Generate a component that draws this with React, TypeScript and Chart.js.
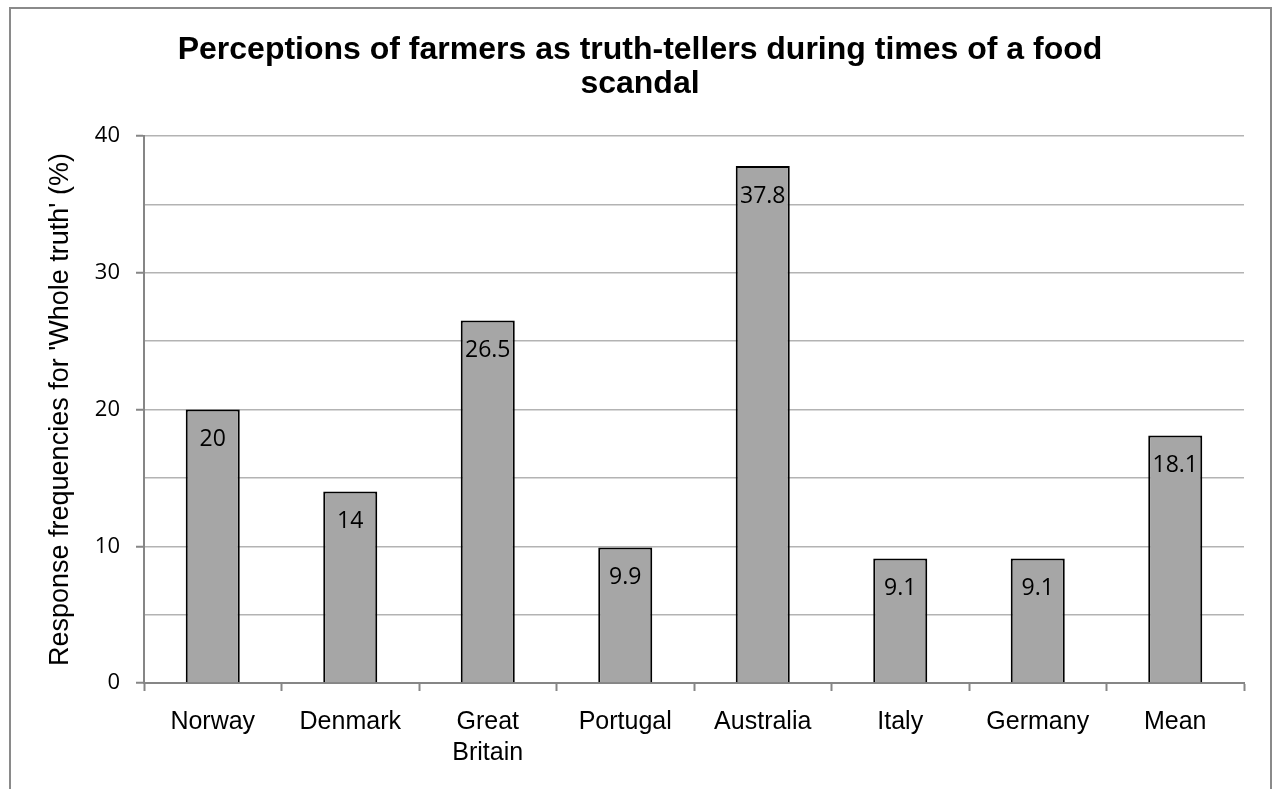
import React, { useEffect, useRef } from "react";
import { Chart, registerables } from "chart.js";

Chart.register(...registerables);

const titleLines = ["Perceptions of farmers as truth-tellers during times of a food", "scandal"];
const categories: (string | string[])[] = ["Norway", "Denmark", ["Great", "Britain"], "Portugal", "Australia", "Italy", "Germany", "Mean"];
const values = [20, 14, 26.5, 9.9, 37.8, 9.1, 9.1, 18.1];
const valueLabels = ["20", "14", "26.5", "9.9", "37.8", "9.1", "9.1", "18.1"];
const yAxisTitle = "Response frequencies for 'Whole truth' (%)";
const yMin = 0;
const yMax = 40;
const yStep = 5;
const yLabelEvery = 10;

const AXIS = "#868686";
const GRID = "#b3b3b3";

const bgPlugin = {
  id: "bgBorder",
  beforeDraw(chart: any) {
    const ctx = chart.ctx;
    ctx.save();
    ctx.fillStyle = "#ffffff";
    ctx.fillRect(0, 0, chart.width, chart.height);
    ctx.strokeStyle = "#8a8a8a";
    ctx.lineWidth = 2;
    ctx.strokeRect(10, 8, chart.width - 13, chart.height + 20);
    ctx.restore();
  },
};

const titlePlugin = {
  id: "titleText",
  afterDraw(chart: any) {
    const ctx = chart.ctx;
    ctx.save();
    ctx.font = 'bold 32px "Liberation Sans", Arial, sans-serif';
    ctx.fillStyle = "#000000";
    ctx.textAlign = "center";
    ctx.textBaseline = "alphabetic";
    const cx = chart.width / 2 + 3;
    ctx.fillText(titleLines[0], cx, 59);
    ctx.fillText(titleLines[1], cx, 93);
    ctx.restore();
  },
};

const valueLabelPlugin = {
  id: "valueLabels",
  afterDatasetsDraw(chart: any) {
    const ctx = chart.ctx;
    const meta = chart.getDatasetMeta(0);
    ctx.save();
    ctx.font = '23px "Open Sans", sans-serif';
    ctx.fillStyle = "#000000";
    ctx.textAlign = "center";
    ctx.textBaseline = "middle";
    meta.data.forEach((bar: any, i: number) => {
      ctx.fillText(valueLabels[i], bar.x, bar.y + 30);
    });
    ctx.restore();
  },
};

export default function App() {
  const ref = useRef<HTMLCanvasElement | null>(null);
  useEffect(() => {
    if (!ref.current) return;
    const chart = new Chart(ref.current, {
      type: "bar",
      data: {
        labels: categories,
        datasets: [
          {
            data: values,
            backgroundColor: "#a6a6a6",
            borderColor: "#000000",
            borderWidth: 2,
            barPercentage: 0.393,
            categoryPercentage: 1,
          },
        ],
      },
      options: {
        responsive: false,
        animation: false,
        devicePixelRatio: 1,
        layout: { padding: { top: 136, right: 30, bottom: 0, left: 0 } },
        plugins: {
          legend: { display: false },
          title: { display: false },
          tooltip: { enabled: false },
        },
        scales: {
          x: {
            grid: {
              offset: true,
              drawOnChartArea: false,
              drawTicks: true,
              tickLength: 8,
              tickColor: AXIS,
              tickWidth: 2,
            },
            border: { color: AXIS, width: 2 },
            ticks: {
              color: "#000000",
              font: { family: '"Liberation Sans", Arial, sans-serif', size: 25, lineHeight: 1.25 },
              padding: 15,
              maxRotation: 0,
              autoSkip: false,
            },
            afterFit(scale: any) {
              scale.height = 106;
            },
          },
          y: {
            min: yMin,
            max: yMax,
            grid: {
              color: GRID,
              lineWidth: 1.5,
              drawTicks: true,
              tickLength: 8,
              tickColor: (c: any) => (c.tick && c.tick.value % yLabelEvery === 0 ? AXIS : "rgba(0,0,0,0)"),
              tickWidth: 2,
            },
            border: { color: AXIS, width: 2 },
            ticks: {
              stepSize: yStep,
              color: "#000000",
              font: { family: '"Open Sans", sans-serif', size: 22 },
              padding: 16,
              callback: (v: any) => (Number(v) % yLabelEvery === 0 ? String(v) : ""),
            },
            title: {
              display: true,
              text: yAxisTitle,
              color: "#000000",
              font: { family: '"Liberation Sans", Arial, sans-serif', size: 27 },
              padding: { top: 44, bottom: 0 },
            },
            afterFit(scale: any) {
              scale.width = 144;
            },
          },
        },
      },
      plugins: [bgPlugin, titlePlugin, valueLabelPlugin],
    });
    return () => chart.destroy();
  }, []);
  return (
    <div style={{ position: "absolute", left: 0, top: 0, width: 1274, height: 789 }}>
      <canvas ref={ref} width={1274} height={789} />
    </div>
  );
}
